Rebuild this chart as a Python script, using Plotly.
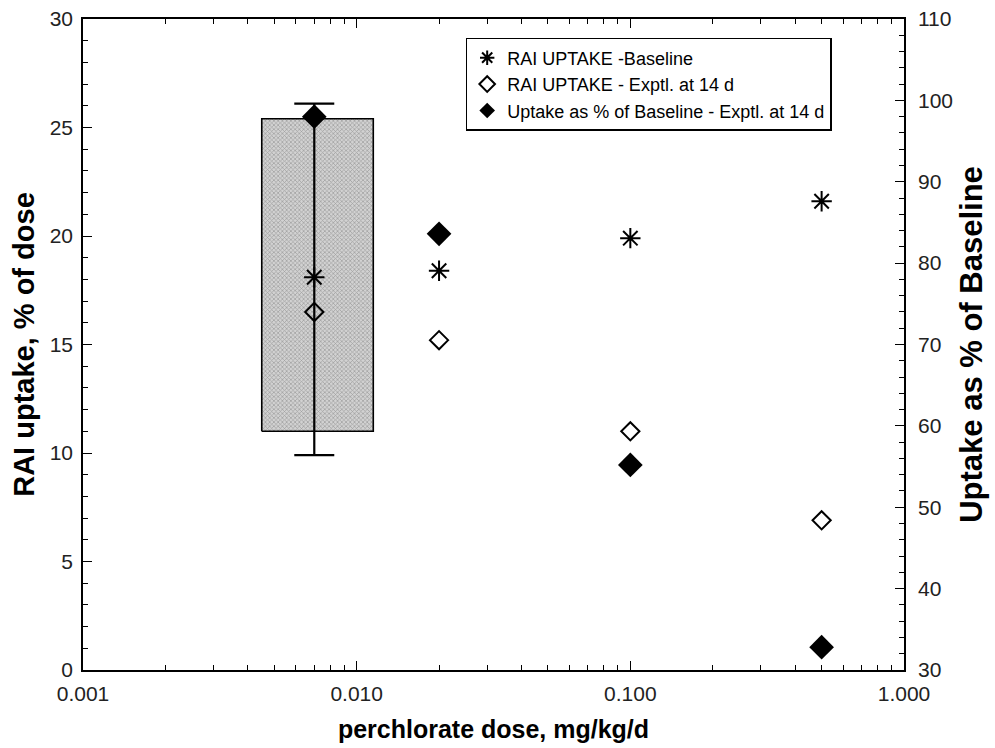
import plotly.graph_objects as go

# Data
dose = [0.007, 0.02, 0.1, 0.5]
baseline = [18.1, 18.4, 19.9, 21.6]
exptl_14d = [16.5, 15.2, 11.0, 6.9]
pct_baseline = [98.0, 83.6, 55.2, 32.8]

# Box (range of baseline uptake) and error bar at lowest dose
box_x = [0.0045, 0.0115]
box_y = [11.0, 25.4]
err_x = [0.007]
err_center = [18.1]
err_high = [26.1]
err_low = [9.9]

x_tickvals = [0.001, 0.01, 0.1, 1.0]
x_ticktext = ["0.001", "0.010", "0.100", "1.000"]
x_minor_tickvals = [m * 10.0 ** k for k in (-3, -2, -1) for m in range(2, 10)]

FONT = "Liberation Sans, Arial, sans-serif"

fig = go.Figure()

fig.add_trace(go.Scatter(
    x=[box_x[0], box_x[1], box_x[1], box_x[0], box_x[0]],
    y=[box_y[0], box_y[0], box_y[1], box_y[1], box_y[0]],
    mode="lines", fill="toself",
    fillcolor="#c4c4c4",
    fillpattern=dict(shape="x", size=3, solidity=0.4, fgcolor="#666666", bgcolor="#d2d2d2"),
    line=dict(color="black", width=1.6),
    showlegend=False, hoverinfo="skip",
))

fig.add_trace(go.Scatter(
    x=err_x, y=err_center, mode="markers",
    marker=dict(size=1, color="rgba(0,0,0,0)"),
    error_y=dict(type="data", symmetric=False,
                 array=[h - c for h, c in zip(err_high, err_center)],
                 arrayminus=[c - l for l, c in zip(err_low, err_center)],
                 color="black", thickness=2.2, width=20),
    showlegend=False, hoverinfo="skip",
))

fig.add_trace(go.Scatter(
    x=dose, y=baseline, mode="markers", name="RAI UPTAKE -Baseline",
    marker=dict(symbol="asterisk-open", size=17, color="black", line=dict(width=2, color="black")),
))
fig.add_trace(go.Scatter(
    x=dose, y=exptl_14d, mode="markers", name="RAI UPTAKE - Exptl. at 14 d",
    marker=dict(symbol="diamond-open", size=14, color="black", line=dict(width=2, color="black")),
))
fig.add_trace(go.Scatter(
    x=dose, y=pct_baseline, mode="markers", name="Uptake as % of Baseline - Exptl. at 14 d",
    yaxis="y2",
    marker=dict(symbol="diamond", size=19, color="black", line=dict(width=0)),
))

axis_common = dict(
    showline=True, linecolor="black", linewidth=1.6, showgrid=False, zeroline=False,
    ticks="inside", ticklen=9, tickwidth=1.2, tickcolor="black",
    tickfont=dict(family=FONT, size=21, color="#222"),
    automargin=False,
)

fig.update_layout(
    width=995, height=748,
    paper_bgcolor="white", plot_bgcolor="white",
    margin=dict(l=83, r=91, t=19, b=78),
    font=dict(family=FONT, color="black"),
    xaxis=dict(
        type="log", range=[-3, 0],
        tickvals=x_tickvals, ticktext=x_ticktext,
        mirror="ticks",
        minor=dict(ticks="inside", ticklen=5, tickcolor="black", tickvals=x_minor_tickvals, showgrid=False),
        title=dict(text="<b>perchlorate dose, mg/kg/d</b>", font=dict(family=FONT, size=25), standoff=16),
        ticklabelstandoff=4,
        **axis_common,
    ),
    yaxis=dict(
        range=[0, 30], dtick=5,
        minor=dict(ticks="inside", ticklen=5, tickcolor="black", dtick=1),
        title=dict(text="<b>RAI uptake, % of dose</b>", font=dict(family=FONT, size=29), standoff=6),
        ticklabelstandoff=4,
        **axis_common,
    ),
    yaxis2=dict(
        range=[30, 110], dtick=10, overlaying="y", side="right",
        minor=dict(ticks="inside", ticklen=5, tickcolor="black", dtick=2),
        title=dict(text="<b>Uptake as % of Baseline</b>", font=dict(family=FONT, size=31), standoff=8),
        ticklabelstandoff=8,
        **axis_common,
    ),
    legend=dict(
        x=0.466, y=0.971, xanchor="left", yanchor="top",
        bgcolor="white", bordercolor="black", borderwidth=1.6,
        font=dict(family=FONT, size=18, color="black"),
        tracegroupgap=0, itemsizing="constant", itemwidth=30,
    ),
)

fig.write_html("out.html", config={"displayModeBar": False},
               post_script="document.body.style.margin='0';")
